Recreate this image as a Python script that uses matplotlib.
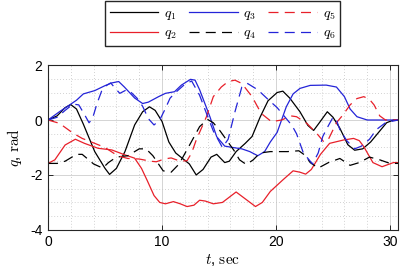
import numpy as np
import matplotlib
matplotlib.use("Agg")
import matplotlib.pyplot as plt
from matplotlib.ticker import MultipleLocator

plt.rcParams["font.family"] = ["Liberation Sans", "DejaVu Sans"]
plt.rcParams["mathtext.fontset"] = "cm"
plt.rcParams["axes.unicode_minus"] = False

# values (t in sec, q in rad)
t1 = [0, 0.8, 1.5, 2.0, 2.5, 3.1, 4.1, 5.0, 5.4, 6.0, 6.75, 7.6, 8.3, 8.9, 9.4, 10.0,
      10.6, 11.2, 11.8, 12.4, 13.0, 13.6, 14.3, 14.8, 15.5, 15.9, 16.5, 17.3, 17.9,
      18.6, 19.3, 20.1, 20.6, 21.2, 22.1, 22.8, 23.3, 23.8, 24.5, 25.0, 25.6, 26.3,
      26.9, 27.6, 28.3, 29.0, 29.7, 30.3, 30.7]
q1 = [0, 0.15, 0.45, 0.56, 0.4, -0.15, -1.15, -1.76, -1.98, -1.76, -1.15, -0.18,
      0.3, 0.48, 0.35, -0.05, -0.8, -1.2, -1.4, -1.6, -2.0, -1.8, -1.35, -1.25,
      -1.55, -1.5, -1.15, -0.85, -0.6, 0.1, 0.7, 1.0, 1.05, 0.8, 0.3, -0.2, -0.38,
      -0.1, 0.3, 0.1, -0.3, -0.9, -1.1, -1.05, -0.8, -0.45, -0.1, 0.0, 0.0]

t2 = [0, 0.6, 1.5, 2.4, 3.2, 4.4, 5.6, 6.75, 7.6, 8.2, 8.7, 9.3, 9.8, 10.3, 11.0,
      11.6, 12.2, 12.8, 13.3, 13.8, 14.5, 15.3, 16.5, 17.4, 18.2, 18.8, 19.5, 20.6,
      21.5, 22.1, 22.6, 23.1, 23.9, 24.7, 25.9, 26.8, 27.3, 27.7, 28.5, 29.3, 30.3,
      30.7]
q2 = [-1.58, -1.45, -0.91, -0.7, -0.85, -1.03, -1.09, -1.27, -1.39, -1.76, -2.2,
      -2.75, -3.0, -3.05, -2.97, -3.05, -3.15, -3.1, -2.92, -2.95, -3.05, -3.0, -2.62,
      -2.9, -3.15, -3.0, -2.6, -2.18, -1.85, -1.9, -1.97, -1.8, -1.25, -0.85, -0.73,
      -0.67, -0.75, -0.97, -1.55, -1.7, -1.55, -1.55]

t3 = [0, 1.0, 1.9, 2.5, 3.1, 4.1, 5.0, 5.6, 6.2, 6.7, 7.6, 8.3, 8.8, 9.7, 10.3,
      11.1, 11.7, 12.5, 12.9, 13.3, 14.2, 14.8, 15.5, 16.2, 17.0, 17.7, 18.4, 19.0,
      19.5, 20.1, 20.9, 21.5, 22.1, 23.0, 24.4, 25.3, 26.0, 26.5, 27.1, 28.0, 30.7]
q3 = [0, 0.3, 0.55, 0.72, 0.95, 1.07, 1.25, 1.35, 1.4, 1.2, 0.8, 0.6, 0.65, 0.85,
      0.97, 1.03, 1.27, 1.48, 1.45, 1.1, 0.12, -0.61, -0.95, -1.0, -1.05, -1.15,
      -1.3, -1.15, -0.8, -0.45, 0.48, 0.95, 1.15, 1.26, 1.27, 1.2, 0.85, 0.4, 0.12,
      0.0, 0.0]

t4 = [0, 0.8, 1.5, 2.5, 3.0, 4.0, 4.8, 5.3, 6.0, 7.0, 8.0, 8.6, 9.2, 10.1, 10.8,
      11.5, 12.5, 13.3, 14.0, 14.5, 15.1, 15.7, 16.3, 16.8, 17.4, 18.0, 18.6, 19.5,
      21.0, 22.0, 22.6, 23.0, 23.7, 24.6, 25.6, 26.5, 27.3, 28.2, 29.1, 30.0, 30.7]
q4 = [-1.58, -1.58, -1.5, -1.25, -1.25, -1.6, -1.75, -1.55, -1.35, -1.3, -1.05,
      -1.05, -1.3, -1.85, -1.9, -1.6, -0.85, -0.24, 0.02, -0.1, -0.4, -0.75, -1.1,
      -1.45, -1.62, -1.45, -1.2, -1.15, -1.15, -1.12, -1.3, -1.55, -1.75, -1.55,
      -1.4, -1.65, -1.55, -1.35, -1.45, -1.58, -1.58]

t5 = [0, 1.0, 2.2, 3.0, 4.1, 5.0, 6.1, 7.0, 8.0, 9.0, 9.5, 10.2, 10.8, 11.6, 12.2,
      12.6, 13.0, 13.9, 14.5, 15.2, 15.8, 16.4, 17.0, 17.9, 18.7, 19.6, 20.5, 21.3,
      21.8, 22.7, 23.6, 24.2, 24.6, 25.3, 25.9, 26.5, 27.1, 27.7, 28.2, 28.6, 29.1,
      29.6, 30.7]
q5 = [0, -0.12, -0.48, -0.67, -0.85, -1.0, -1.3, -1.4, -1.42, -1.5, -1.52, -1.42,
      -1.38, -1.5, -1.48, -1.2, -0.73, 0.12, 0.85, 1.2, 1.4, 1.45, 1.33, 0.85, 0.24,
      -0.06, 0.0, 0.15, 0.12, -0.12, -0.5, -0.8, -0.7, -0.1, 0.2, 0.55, 0.78, 0.85,
      0.75, 0.55, 0.15, 0.0, 0.0]

t6 = [0, 0.8, 1.5, 2.2, 2.7, 3.2, 3.6, 3.9, 4.3, 4.7, 5.1, 5.5, 5.9, 6.3, 6.9, 7.3,
      7.8, 8.3, 8.8, 9.3, 9.8, 10.3, 10.7, 11.1, 12.0, 12.6, 13.3, 13.9, 14.5, 15.3,
      15.8, 16.4, 17.0, 17.5, 18.4, 19.3, 20.1, 20.9, 21.4, 21.8, 22.4, 23.2, 23.7,
      24.1, 24.6, 25.0, 25.3, 25.6, 26.2, 26.9, 27.5, 28.2, 28.8, 29.6, 30.7]
q6 = [0, 0.1, 0.35, 0.58, 0.55, 0.2, -0.1, 0.05, 0.6, 1.05, 1.25, 1.35, 1.15, 0.97,
      1.1, 1.0, 0.8, 0.5, 0.05, -0.18, 0.0, 0.42, 0.79, 0.97, 1.3, 1.42, 0.9, 0.24,
      -0.4, -1.0, -0.7, 0.3, 1.2, 1.33, 1.1, 0.75, 0.45, 0.05, -0.2, -0.5, -1.2,
      -1.6, -1.2, -0.6, -0.2, 0.1, 0.0, -0.35, -0.75, -1.05, -0.95, -0.7, -0.35,
      -0.1, 0.0]

RED = "#e8202a"
BLUE = "#2424d8"
DASH = (8, 5)

fig = plt.figure(figsize=(4.0, 2.78), dpi=100)
ax = fig.add_axes([0.12, 0.173, 0.875, 0.593])

series = [(t1, q1, "k", None, r"$q_1$"),
          (t2, q2, RED, None, r"$q_2$"),
          (t3, q3, BLUE, None, r"$q_3$"),
          (t4, q4, "k", DASH, r"$q_4$"),
          (t5, q5, RED, DASH, r"$q_5$"),
          (t6, q6, BLUE, DASH, r"$q_6$")]
for t, q, c, d, lab in series:
    ln, = ax.plot(t, q, color=c, lw=0.9, label=lab)
    if d is not None:
        ln.set_dashes(d)

ax.set_xlim(0, 30.7)
ax.set_ylim(-4, 2)
ax.xaxis.set_major_locator(MultipleLocator(10))
ax.xaxis.set_minor_locator(MultipleLocator(2))
ax.yaxis.set_major_locator(MultipleLocator(2))
ax.yaxis.set_minor_locator(MultipleLocator(0.5))
ax.grid(which="major", color="#d4d4d4", lw=0.7)
ax.grid(which="minor", color="#c4c4c4", lw=0.6, ls=(0, (1, 2.5)))
ax.set_axisbelow(True)
ax.tick_params(which="major", direction="in", top=True, right=True, length=3.5,
               width=0.7, labelsize=10, colors="#262626", labelcolor="black", pad=4)
ax.tick_params(which="minor", length=0, top=True, right=True)
for s in ax.spines.values():
    s.set_color("#262626")
    s.set_linewidth(0.8)

ax.set_xlabel(r"$t$, $\mathrm{sec}$", fontsize=11, labelpad=2)
ax.set_ylabel(r"$q$, $\mathrm{rad}$", fontsize=11, labelpad=4)

fig.legend(loc="center", bbox_to_anchor=(0.556, 0.915), ncol=3, fontsize=10,
           handlelength=3.5, handletextpad=0.4, columnspacing=0.9,
           labelspacing=0.25, fancybox=False, framealpha=1, edgecolor="#262626",
           borderpad=0.35)

fig.savefig("out.png", dpi=100)
